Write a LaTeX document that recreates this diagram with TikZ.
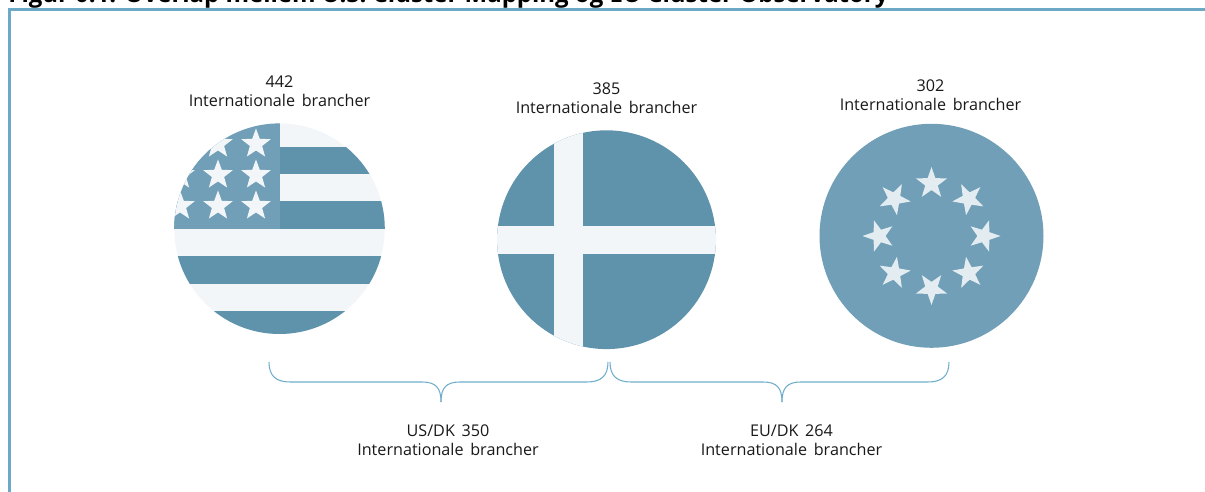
\documentclass[tikz,border=0pt]{standalone}
\usepackage{fontspec}
\setmainfont{Open Sans}
\usepackage{tikz}
\usepackage{xcolor}
\usetikzlibrary{shapes.geometric}
\definecolor{frameblue}{HTML}{6BA9C6}
\definecolor{flagdark}{HTML}{5F93AC}
\definecolor{flagmid}{HTML}{709FB7}
\definecolor{flagpale}{HTML}{F2F6F9}
\definecolor{starpale}{HTML}{E3ECF1}
\definecolor{bracecol}{HTML}{6FADCB}
\newcommand{\branchtxt}{Internationale\hspace{0.05cm} brancher}
\tikzset{
	x=0.02cm, y=-0.02cm,
	lbl/.style={align=center, font=\fontsize{9.2}{11}\selectfont, text=black!90, inner sep=0pt},
	whitestar/.style={star, star points=5, star point ratio=2.4, fill=flagpale, inner sep=0pt, minimum size=31*0.02cm},
	eustar/.style={star, star points=5, star point ratio=2.5, fill=starpale, inner sep=0pt, minimum size=33*0.02cm},
	curly/.style={draw=bracecol, line width=0.6pt},
}
\begin{document}
\begin{tikzpicture}
		\useasboundingbox (0,0) rectangle (1205,492);
		
		% title
		\node [anchor=base west, inner sep=0pt, font=\fontsize{13.65}{16}\selectfont\bfseries] (title) at (8,3) {Figur 0.1: Overlap mellem U.S. Cluster Mapping og EU Cluster Observatory};
		
		% frame
		\draw [frameblue, line width=1.7pt] (9.5,492) -- (9.5,9.5) -- (1205,9.5);
		
		% flag 1
		\begin{scope}
			\clip (279.5,228.7) circle (105.3);
			\fill [flagpale] (170,120) rectangle (390,340);
			\foreach \y in {146.7,201.5,256.3,311}
				\fill [flagdark] (170,\y) rectangle (390,\y+27.4);
			\fill [flagmid] (170,120) rectangle (279.5,229);
			\foreach \x in {180,218,256}
				\foreach \y in {144,175,206}
					\node [whitestar] at (\x,\y) {};
		\end{scope}
		\node [lbl] (usa) at (279.5,91) {442\\\branchtxt};
		
		% flag 2
		\begin{scope}
			\clip (606.5,239.7) circle (109.4);
			\fill [flagdark] (490,125) rectangle (720,355);
			\fill [flagpale] (490,225.7) rectangle (720,254.3);
			\fill [flagpale] (554,125) rectangle (582.7,355);
		\end{scope}
		\node [lbl] (dk) at (606.5,98) {385\\\branchtxt};
		
		% flag 3
		\fill [flagmid] (931.5,235.8) circle (112);
		\foreach \a in {90,45,0,-45,-90,-135,180,135}
			\node [eustar, rotate=\a-90] at ({931.5+52.5*cos(\a)},{236-52.5*sin(\a)}) {};
		\node [lbl] (eu) at (930.5,95) {302\\\branchtxt};
		
		% braces
		\coordinate (ua) at (269,362);
		\coordinate (ub) at (608,362);
		\coordinate (ut) at (441,402);
		\coordinate (ea) at (610,362);
		\coordinate (eb) at (949,362);
		\coordinate (et) at (782,402);
		\draw [curly] (ua) .. controls (269,376) and (276,382) .. (290,382) -- (422,382) .. controls (436,382) and (441,388) .. (ut);
		\draw [curly] (ub) .. controls (608,376) and (601,382) .. (587,382) -- (460,382) .. controls (446,382) and (441,388) .. (ut);
		\draw [curly] (ea) .. controls (610,376) and (617,382) .. (631,382) -- (763,382) .. controls (777,382) and (782,388) .. (et);
		\draw [curly] (eb) .. controls (949,376) and (942,382) .. (928,382) -- (801,382) .. controls (787,382) and (782,388) .. (et);
		\node [lbl] (usdk) at (448,440.5) {US/DK\hspace{0.05cm} 350\\\branchtxt};
		\node [lbl] (eudk) at (791.5,440.5) {EU/DK\hspace{0.05cm} 264\\\branchtxt};
		
		\end{tikzpicture}
\end{document}
